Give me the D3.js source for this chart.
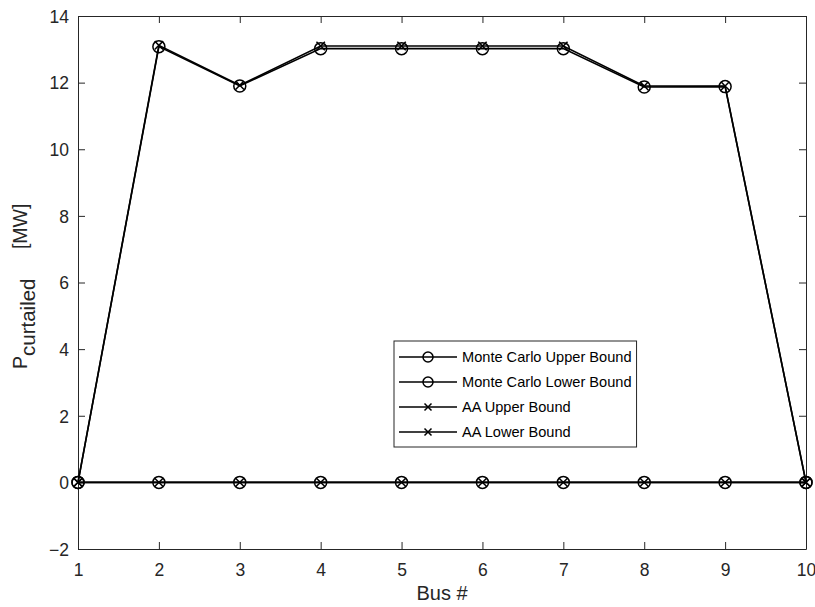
<!DOCTYPE html>
<html>
<head>
<meta charset="utf-8">
<script src="https://cdn.jsdelivr.net/npm/d3@7"></script>
<style>
  body { margin: 0; background: #fff; }
  svg { display: block; font-family: "Liberation Sans", Arial, Helvetica, sans-serif; }
</style>
</head>
<body>
<svg id="chart" width="815" height="607"></svg>
<script>
// Curtailed power per bus: Monte Carlo vs. affine arithmetic bounds
const buses = [1, 2, 3, 4, 5, 6, 7, 8, 9, 10];
const mcUpper = [0, 13.08, 11.9, 13.02, 13.02, 13.02, 13.02, 11.87, 11.88, 0];
const mcLower = [0, 0, 0, 0, 0, 0, 0, 0, 0, 0];
const aaUpper = [0, 13.12, 11.92, 13.1, 13.1, 13.1, 13.1, 11.9, 11.9, 0];
const aaLower = [0, 0, 0, 0, 0, 0, 0, 0, 0, 0];
const xTicks = [1, 2, 3, 4, 5, 6, 7, 8, 9, 10];
const yTicks = [-2, 0, 2, 4, 6, 8, 10, 12, 14];

const seriesNames = ["Monte Carlo Upper Bound", "Monte Carlo Lower Bound", "AA Upper Bound", "AA Lower Bound"];
const seriesValues = [mcUpper, mcLower, aaUpper, aaLower];
const seriesMarkers = ["circle", "circle", "cross", "cross"];

const svg = d3.select("#chart");
const plotLeft = 78, plotRight = 806, plotTop = 16, plotBottom = 549;
const axisColor = "#262626";
const fontStack = "'Liberation Sans', Arial, Helvetica, sans-serif";

const x = d3.scaleLinear().domain([1, 10]).range([plotLeft, plotRight]);
const y = d3.scaleLinear().domain([-2, 14]).range([plotBottom, plotTop]);

// Axes with inward ticks (box on all four sides)
const tickLen = 7;
const gx = svg.append("g").attr("transform", `translate(0,${plotBottom})`)
  .call(d3.axisBottom(x).tickValues(xTicks).tickSizeInner(-tickLen).tickSizeOuter(0).tickFormat(d3.format("d")));
const gxTop = svg.append("g").attr("transform", `translate(0,${plotTop})`)
  .call(d3.axisTop(x).tickValues(xTicks).tickSizeInner(-tickLen).tickSizeOuter(0).tickFormat(""));
const gy = svg.append("g").attr("transform", `translate(${plotLeft},0)`)
  .call(d3.axisLeft(y).tickValues(yTicks).tickSizeInner(-tickLen).tickSizeOuter(0).tickFormat(d3.format("d")));
const gyRight = svg.append("g").attr("transform", `translate(${plotRight},0)`)
  .call(d3.axisRight(y).tickValues(yTicks).tickSizeInner(-tickLen).tickSizeOuter(0).tickFormat(""));

[gx, gxTop, gy, gyRight].forEach(g => {
  g.attr("font-family", null).attr("font-size", null);
  g.select(".domain").attr("stroke", axisColor).attr("stroke-width", 1);
  g.selectAll(".tick line").attr("stroke", axisColor).attr("stroke-width", 1);
  g.selectAll(".tick text").attr("fill", axisColor)
    .style("font-size", "17.5px").style("font-family", fontStack);
});
gx.selectAll(".tick text").attr("y", 27).attr("dy", null);
gy.selectAll(".tick text").attr("x", -9).attr("dy", "0.36em");

// Axis labels
svg.append("text")
  .attr("x", (plotLeft + plotRight) / 2).attr("y", 600)
  .attr("text-anchor", "middle").attr("fill", axisColor)
  .style("font-size", "20px").style("font-family", fontStack)
  .text("Bus #");

const yl = svg.append("text")
  .attr("transform", "translate(27,369) rotate(-90)")
  .attr("text-anchor", "start").attr("fill", axisColor)
  .style("font-size", "19.5px").style("font-family", fontStack);
yl.append("tspan").text("P");
yl.append("tspan").attr("dy", 8).style("font-size", "20.5px").text("curtailed");
yl.append("tspan").attr("dy", -8).attr("dx", 24).text(" [MW]");

// Lines and markers
const line = d3.line().x((d, i) => x(buses[i])).y(d => y(d));
const plot = svg.append("g");

function drawMarker(g, type, cx, cy, size) {
  if (type === "circle") {
    g.append("circle").attr("cx", cx).attr("cy", cy).attr("r", size)
      .attr("fill", "none").attr("stroke", "#000").attr("stroke-width", 1.5);
  } else {
    const s = size * 0.7;
    g.append("path")
      .attr("d", `M${cx - s},${cy - s}L${cx + s},${cy + s}M${cx - s},${cy + s}L${cx + s},${cy - s}`)
      .attr("stroke", "#000").attr("stroke-width", 1.5).attr("fill", "none");
  }
}

seriesValues.forEach((vals, k) => {
  plot.append("path").datum(vals)
    .attr("d", line).attr("fill", "none").attr("stroke", "#000").attr("stroke-width", 1.6);
  vals.forEach((v, i) => drawMarker(plot, seriesMarkers[k], x(buses[i]), y(v), 6));
});

// Legend
const lg = svg.append("g");
const lgX = 394, lgY = 341, lgH = 106, rowH = 25;
const box = lg.append("rect").attr("x", lgX).attr("y", lgY).attr("height", lgH)
  .attr("fill", "#fff").attr("stroke", axisColor).attr("stroke-width", 1);
let maxW = 0;
seriesNames.forEach((name, k) => {
  const cy = lgY + 16 + k * rowH;
  lg.append("line").attr("x1", lgX + 5).attr("x2", lgX + 63).attr("y1", cy).attr("y2", cy)
    .attr("stroke", "#000").attr("stroke-width", 1.5);
  drawMarker(lg, seriesMarkers[k], lgX + 34, cy, 5);
  const t = lg.append("text").attr("x", lgX + 68).attr("y", cy).attr("dy", "0.36em")
    .attr("fill", "#000").style("font-size", "14.6px").style("font-family", fontStack).text(name);
  maxW = Math.max(maxW, t.node().getComputedTextLength());
});
box.attr("width", 68 + maxW + 5);
</script>
</body>
</html>
